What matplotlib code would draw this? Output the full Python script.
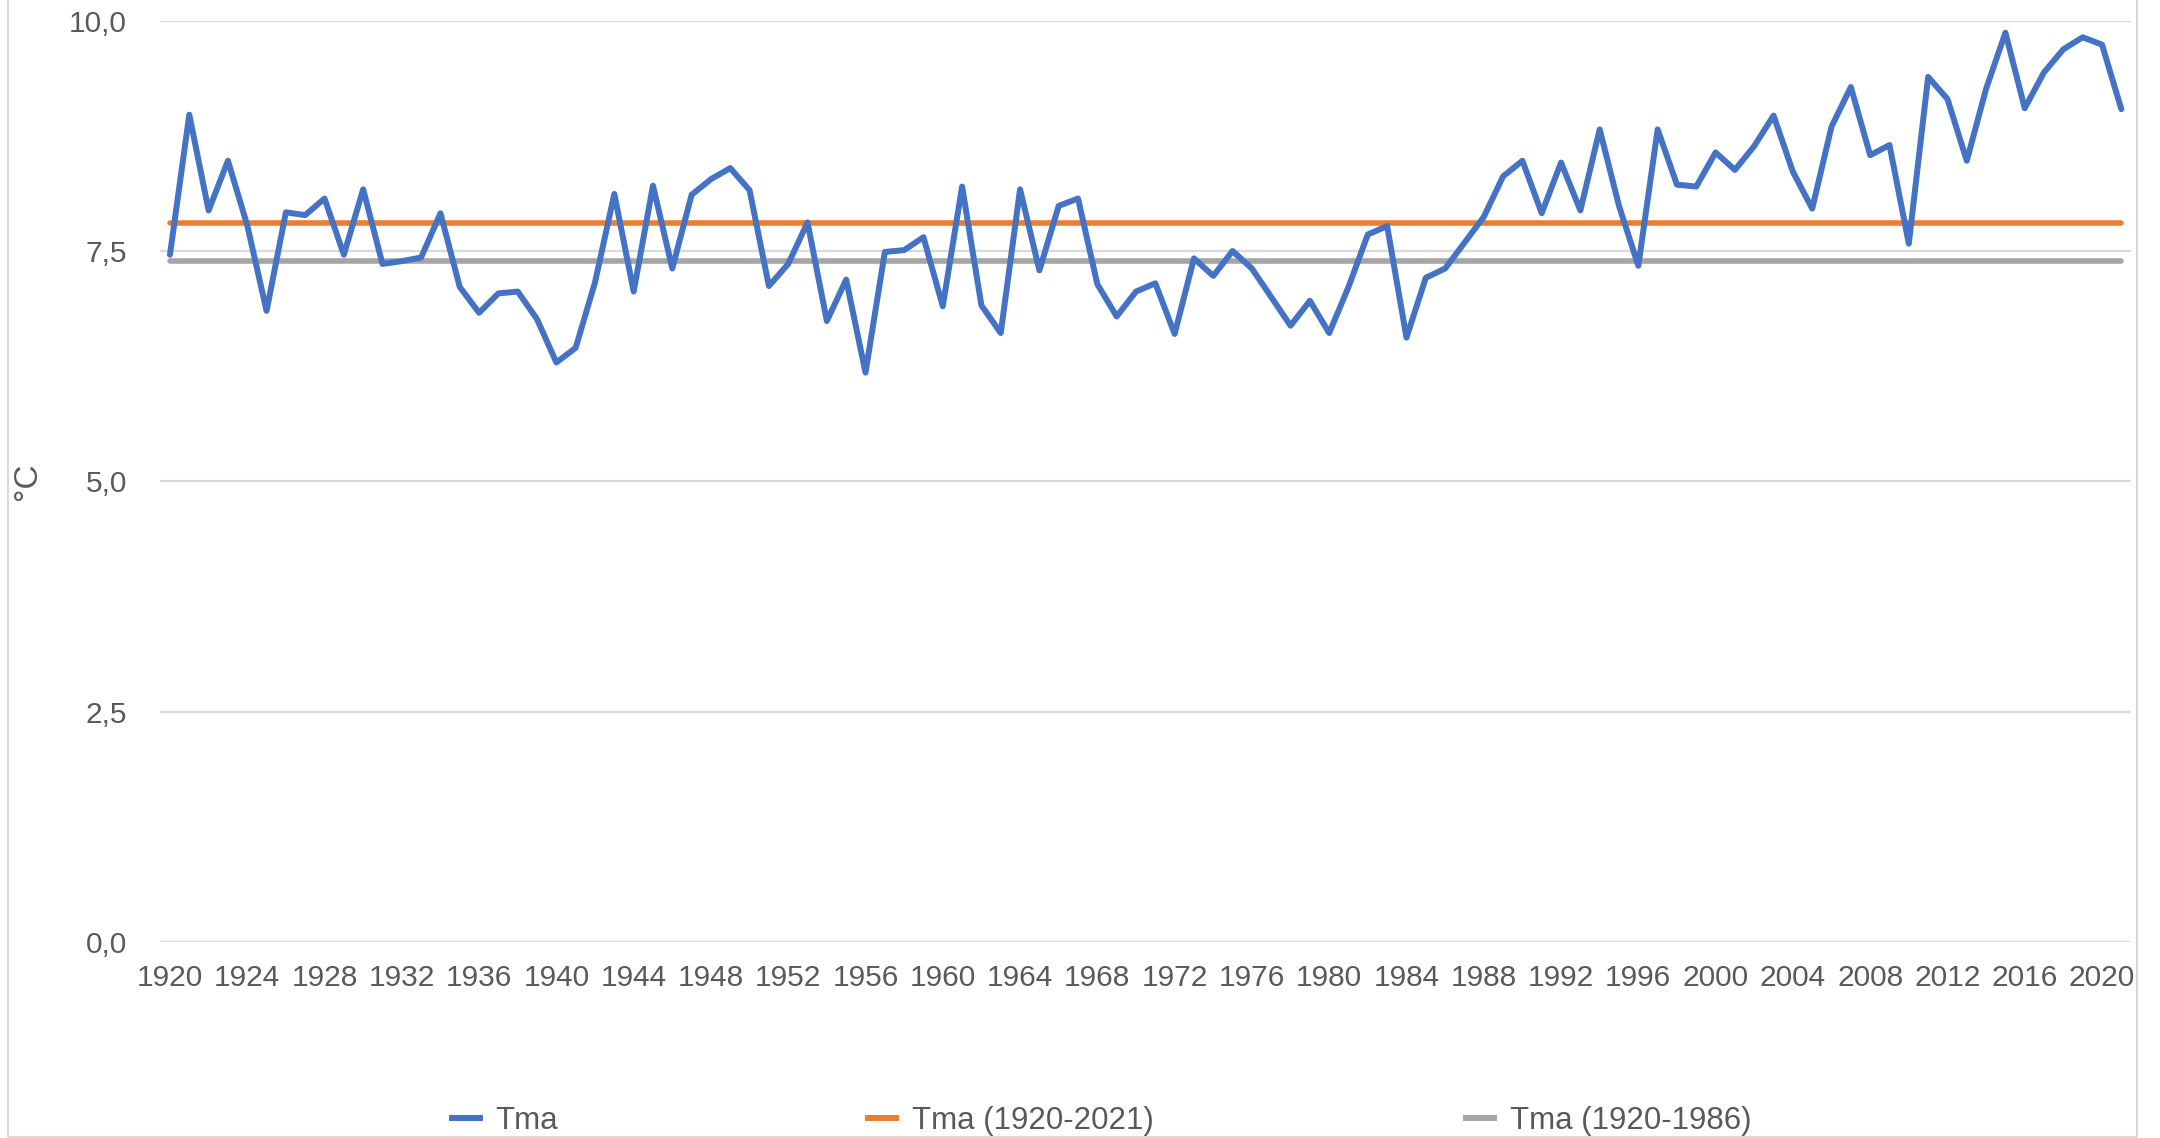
import matplotlib.pyplot as plt
from matplotlib.lines import Line2D
from matplotlib.patches import Rectangle

plt.rcParams['font.family'] = ['Liberation Sans', 'DejaVu Sans']

years = list(range(1920, 2022))
tma = [7.46, 8.98, 7.94, 8.48, 7.78, 6.85, 7.92, 7.89, 8.07, 7.46,
       8.17, 7.36, 7.39, 7.43, 7.91, 7.11, 6.83, 7.04, 7.06, 6.76,
       6.29, 6.45, 7.16, 8.12, 7.06, 8.21, 7.31, 8.11, 8.28, 8.40,
       8.16, 7.12, 7.36, 7.81, 6.74, 7.19, 6.18, 7.49, 7.51, 7.65,
       6.90, 8.20, 6.91, 6.61, 8.17, 7.29, 7.99, 8.07, 7.14, 6.79,
       7.06, 7.15, 6.60, 7.42, 7.23, 7.50, 7.31, 7.00, 6.69, 6.96,
       6.61, 7.11, 7.68, 7.77, 6.56, 7.21, 7.31, 7.59, 7.87, 8.31,
       8.48, 7.91, 8.46, 7.94, 8.82, 7.99, 7.34, 8.82, 8.22, 8.20,
       8.57, 8.38, 8.64, 8.97, 8.36, 7.96, 8.85, 9.28, 8.54, 8.65,
       7.58, 9.39, 9.15, 8.48, 9.26, 9.87, 9.05, 9.44, 9.69, 9.82,
       9.74, 9.04]
mean_all = [7.80] * len(years)     # Tma (1920-2021)
mean_ref = [7.39] * len(years)     # Tma (1920-1986)

labels = ['Tma', 'Tma (1920-2021)', 'Tma (1920-1986)']
colors = ['#4472C4', '#ED7D31', '#A5A5A5']
ytick_vals = [0, 2.5, 5, 7.5, 10]
ytick_labels = ['0,0', '2,5', '5,0', '7,5', '10,0']
xtick_vals = list(range(1920, 2021, 4))

W, H = 2160, 1138
fig = plt.figure(figsize=(W / 100, H / 100), dpi=100)
ax = fig.add_axes([160.3 / W, 1 - 942 / H, (2131 - 160.3) / W, (942 - 20.7) / H])

ax.plot(years, tma, color=colors[0], lw=4.3, solid_capstyle='round', solid_joinstyle='round', zorder=4)
ax.plot(years, mean_all, color=colors[1], lw=4.0, solid_capstyle='round', zorder=3)
ax.plot(years, mean_ref, color=colors[2], lw=4.0, solid_capstyle='round', zorder=3)

ax.set_xlim(1919.5, 2021.5)
ax.set_ylim(0, 10)
ax.set_yticks(ytick_vals)
ax.set_yticklabels(ytick_labels)
ax.set_xticks(xtick_vals)
ax.set_xticklabels([str(y) for y in xtick_vals])
ax.grid(axis='y', color='#d9d9d9', lw=1.6, zorder=0)
ax.tick_params(axis='both', length=0, labelsize=21.5, labelcolor='#595959')
ax.tick_params(axis='y', pad=24)
ax.tick_params(axis='x', pad=16)
for s in ax.spines.values():
    s.set_visible(False)

fig.text(27 / W, 1 - 481 / H, '°C', rotation=90, ha='center', va='center', fontsize=24, color='#595959')

# legend entries, spaced like the original
legend_x = [452, 868, 1466]
for lab, col, lx in zip(labels, colors, legend_x):
    h = Line2D([0], [0], color=col, lw=4.3)
    fig.legend(handles=[h], labels=[lab], loc='center left',
               bbox_to_anchor=(lx / W, 1 - 1121 / H), frameon=False,
               borderpad=0, borderaxespad=0, handlelength=0.9,
               handletextpad=0.5, fontsize=22.5, labelcolor='#595959')

fig.add_artist(Rectangle((8 / W, 1 / H), (2137 - 8) / W, 1.1, transform=fig.transFigure,
                         fill=False, edgecolor='#d9d9d9', lw=1.5))

fig.savefig('out.png', dpi=100)
